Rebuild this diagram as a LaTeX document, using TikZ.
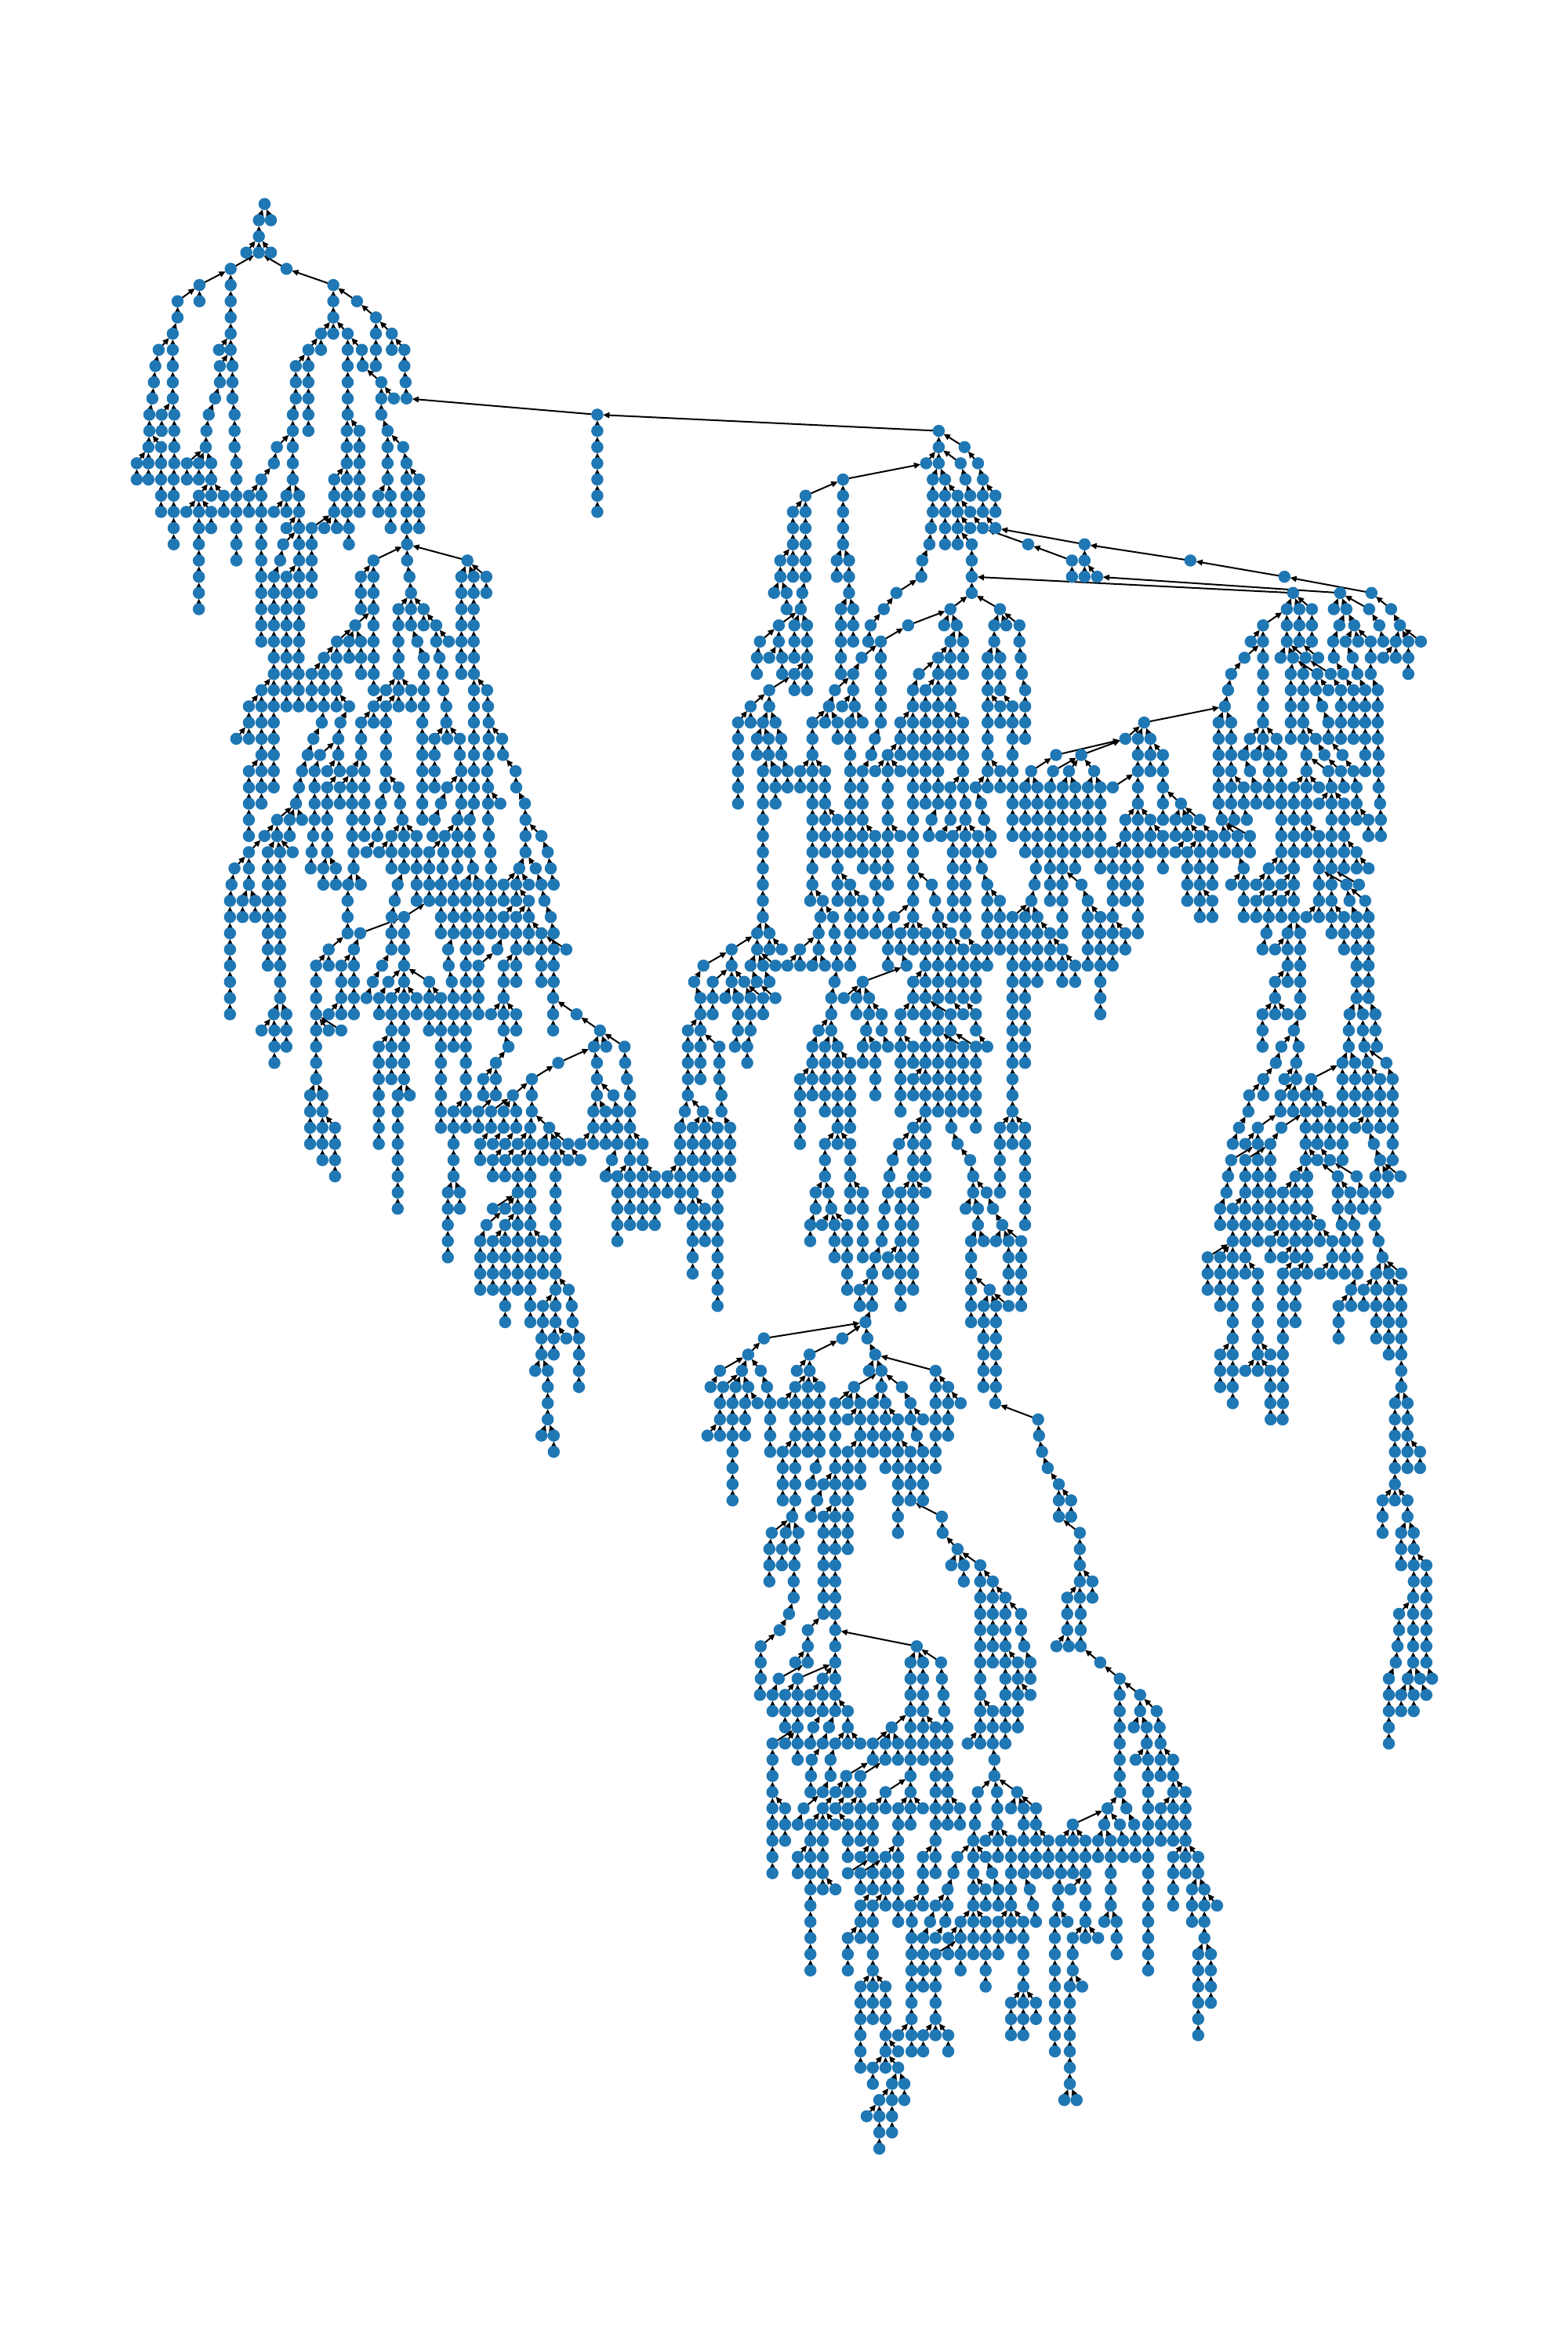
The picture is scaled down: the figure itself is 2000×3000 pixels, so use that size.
\documentclass[tikz,border=0pt]{standalone}
\definecolor{dotblue}{HTML}{1F77B4}
\newcount\nc \newdimen\bd \newdimen\td
\newdimen\cx \newdimen\cy \newdimen\px \newdimen\py \newdimen\ux \newdimen\uy
\newcommand\RG[2]{\def\regx{#1}\def\regs{#2}}
\newcommand\RW[2]{\pgfmathsetmacro\ry{-(260.2+20.67*#1)}\foreach \x/\p in {#2}{%
 \global\advance\nc by1
 \pgfmathsetmacro\rx{\regx+\x/\regs}\pgfmathsetmacro\rp{\regx+\p/\regs}%
 \coordinate (n\the\nc) at (\rx,\ry);
 \expandafter\xdef\csname rl#1\endcsname{\csname rl#1\endcsname\the\nc/\rx,}%
 \expandafter\xdef\csname td#1\endcsname{\csname td#1\endcsname\the\nc/\rp,}%
}}
\makeatletter
\def\getedge#1#2{%
 \pgfpointanchor{n#1}{center}\cx=\pgf@x \cy=\pgf@y
 \pgfpointanchor{n#2}{center}\px=\pgf@x \py=\pgf@y
 \pgfpointnormalised{\pgfqpoint{\dimexpr\px-\cx\relax}{\dimexpr\py-\cy\relax}}\ux=\pgf@x \uy=\pgf@y }
\def\addline#1#2{\getedge{#1}{#2}%
 \pgfpathmoveto{\pgfqpoint{\dimexpr\cx+2.134\ux\relax}{\dimexpr\cy+2.134\uy\relax}}%
 \pgfpathlineto{\pgfqpoint{\dimexpr\px-4.2\ux\relax}{\dimexpr\py-4.2\uy\relax}}}
\def\addtip#1#2{\getedge{#1}{#2}%
 \pgfpathmoveto{\pgfqpoint{\dimexpr\px-2.134\ux\relax}{\dimexpr\py-2.134\uy\relax}}%
 \pgfpathlineto{\pgfqpoint{\dimexpr\px-4.41\ux-1.138\uy\relax}{\dimexpr\py-4.41\uy+1.138\ux\relax}}%
 \pgfpathlineto{\pgfqpoint{\dimexpr\px-4.41\ux+1.138\uy\relax}{\dimexpr\py-4.41\uy-1.138\ux\relax}}%
 \pgfpathclose}
\makeatother
\def\findnear#1/#2,{\ifnum#1<0 \else\td=#2pt \advance\td-\tgt\relax\ifdim\td<0pt \td=-\td\fi\ifdim\td<\bd \bd=\td\def\best{#1}\fi\expandafter\findnear\fi}
\def\scantodo#1/#2,{\ifnum#1<0 \else\def\tgt{#2pt}\bd=15000pt \expandafter\findnear\plist -1/0,\edgeact{#1}{\best}\expandafter\scantodo\fi}
\def\scandot#1/#2,{\ifnum#1<0 \else\pgfpathcircle{\pgfpointanchor{n#1}{center}}{2.2pt}\expandafter\scandot\fi}
\begin{document}
\begin{tikzpicture}[x=0.01cm,y=0.01cm]
\useasboundingbox (0,0) rectangle (2000,-3000);
\foreach \r in {0,...,120}{\expandafter\gdef\csname rl\r\endcsname{}\expandafter\gdef\csname td\r\endcsname{}}
% top-left tree
\RG{140}{2.613}
\RW{0}{516}
\RW{1}{497,537}
\RW{2}{497}
\RW{3}{455,497,537}
\RW{4}{403/497,589/497}
\RW{5}{299,403,745}
\RW{6}{226,299,403,745,824}
\RW{7}{226,403,745,887}
\RW{8}{210,403,704,745,793/745,887,940}
\RW{9}{163,210,364,403,662,704,793,840/793,887,940,982}
\RW{10}{152,210,367/403,409,620,662,793,843,887,982}
\RW{11}{147,210,367,409,620,662,793,905/843,986}
\RW{12}{142,210,351,409,620,662,793,905,947/905,989}
\RW{13}{132,173/210,215,330,416,610,662,793,905,1625}
\RW{14}{132,173,215,322,416,610,662,790,832/793,926/905,1625}
\RW{15}{129,171/132,215,320,416,557/610,610,790,832,926,978/926,1625}
\RW{16}{90/129,129,171,215,257/320,297/320,338/320,422,547,610,790,832,926,989,1625}
\RW{17}{90,129,171,213,257,297,338,422,505/547,610,748/790,790,832,926,989,1031/989,1625}
\RW{18}{171,213,297/338,338,380/338,422,464/505,505,589/610,631/610,748,790,832,895/926,936/926,989,1031,1625}
\RW{19}{171,213,255/297,297,338/297,380,422,464,505,547/589,589,631,748,790,832,895,936,989,1031,1625}
\RW{20}{213,297,338,422,505,589/631,631,673/748,715/748,757/748,797,936,989,1031}
\RW{21}{213,297,422,505,578/631,631,673,797,991}
\RW{22}{297,422,505,568,631,673,879/991,991,1192/991}
\RW{23}{297,505,547/568,589/631,631,673,837,879,999,1172/1192,1213/1192,1255/1192}
\RW{24}{297,505,547,589,631,673,837,879,1004,1172,1213,1255}
\RW{25}{297,505,547,589,631,837,879,962/1004,1004,1046/1004,1172,1213}
\RW{26}{505,547,589,631,818/879,879,962,1004,1046,1088/1046,1172,1213}
\RW{27}{505,547,589,631,757/818,797/818,837/818,879,962,1025/1004,1088,1130/1088,1172,1213}
% left-middle
\RG{270}{2.613}
\RW{28}{207,249,290,374/416,416,458,498,540,623,707,759,832,874}
\RW{29}{207,249,290,333/374,374,416,498,540,623,707,769,832,874}
\RW{30}{166/207,207,249,290,333,374,416,540,581/623,623,665/623,707,772,874,918/874}
\RW{31}{124/166,166,207,249,290,333,374,416,458/416,540/581,581/623,623,665,707,782,874,921}
\RW{32}{124,166,207,367/374,429/458,498/540,540,581,702,782,874,923}
\RW{33}{82/124,124,166,207,339,422,498,581,702,743/782,785,827/782,874,923,968/923}
\RW{34}{166,207,320,361/422,422,498,581,702,743,827,874,923,971}
\RW{35}{124/166,166,207,301,343,385/422,427/422,468/498,509/498,581,702,743,832,874,918,1013}
\RW{36}{124,166,207,291,343,385/427,427/468,468,509,578,623/581,702,743,785/832,832,874,921,1015}
\RW{37}{124,166,281,343,385,427,468,509,564,628,702,764/785,832,874,921,962/921,1044/1015}
\RW{38}{124,218/281,260/281,301/281,343,385,468,509,560,636,702,743,819,860,921,1046}
\RW{39}{124,176/218,218,260,338,385,468,509,552,599/636,641/636,683/636,736,777/819,819,860,924,1046,1099/1046}
\RW{40}{124/176,187/218,228/218,270/218,333,385,473,516/552,558/599,599,641,683,725/777,772,819,860,929,1046,1120}
\RW{41}{76/124,124,187,228,330,372/385,414/385,473,599,641,683,725,769,819,871,931,1025/1046,1080/1046,1130}
\RW{42}{66,124,187,228,372,414,455/473,497/473,620,683,725,764,806,847,889,931,973/1025,1015/1025,1057/1025,1099,1140}
\RW{43}{61,103/124,145/124,187,228,453,610,683,725,764,806,847,889,931,973,1015,1057/1015,1109}
\RW{44}{61,103,145,187,228,453,600,641/725,764,806,847,889,931,973/1015,1015/1057,1057,1130}
\RW{45}{61,187,228,453,495/641,599,641,764,806,847,889,931,973,1015,1057,1099/1057,1140}
\RW{46}{61,187,228,390/453,474/495,599,641,788,847,889,952/973,1015,1057,1099,1140,1182/1099}
\RW{47}{61,187,228,348/390,390,432/474,474,568,641,790,847,889/952,973/1015,1015,1099,1140}
\RW{48}{61,228,348,432,474,537/568,589/641,641,725/641,800,847,889,973,1015,1099,1140}
\RW{49}{61,228,348,432,474,516/537,558/589,599/641,641,683/641,725,764/725,806,847,889,973,1138}
\RW{50}{61,207/228,249/228,348,390/432,432,474,558,599,641,683,725,764,806,847,889,931/973,973,1015/973,1138,1216/1138}
\RG{350}{2.613}
\RW{51}{-43,0,40,139,181/139,223/139,390,432,515,555,597,638,764,806,929,1085/1006,1378,1420}
\RW{52}{0,40,139,348/390,390,432,555,597,638,780,1065/1085,1106/1085,1167/1085,1378,1420,1483/1420}
\RW{53}{0,139,348,390,432,555,638,738,946/1065,1075/1065,1169,1378,1420,1483}
\RW{54}{139,348,390,432,555,638,696/738,738,858/946,1075,1175,1378,1420,1483}
\RW{55}{119/139,160/139,348,411/432,451/432,555,638,696,738,795/858,858,1075,1130/1075,1185,1378,1490}
\RW{56}{119,160,348,411,555,597/638,638,680/738,722/795,764/795,806/795,858,1063/1075,1104/1075,1143/1130,1185,1368,1428/1378,1490}
\RW{57}{119,160,202/160,348,411,555,597,638,680,722,764,806,853/858,916/858,1063,1104,1143,1185,1352,1394/1428,1435/1428,1477/1428,1519/1490}
\RW{58}{119,160,202,348,411,597,686/722,728/764,769/806,811/853,853,895/916,937/916,979/916,1020/1063,1063,1104,1143,1185,1227/1185,1352,1394,1435,1477,1519}
\RW{59}{160,202,411,597,686,728/769,769/811,811/853,853,895,937,979/937,1020/979,1125/1143,1185,1227,1352,1394,1435,1477,1519}
\RW{60}{202,411,597,728,769,811,853,937,1104/1125,1143/1185,1185,1227,1268/1227,1310/1352,1352,1394,1435,1477,1519}
\RW{61}{411,578/597,618/597,811,853,937,1143,1185,1227,1268,1310,1352,1394,1477}
\RW{62}{411,578,618,728/811,769/811,811,853,937,1143,1185,1227,1268,1352,1394,1435/1394,1477}
\RW{63}{578,707/769,769/811,811,853,937,1143,1185,1227,1268,1394,1435,1477}
\RW{64}{578,686/707,728/769,769,811,853,895/853,937,1143,1394,1435,1477}
\RW{65}{578,686,728,769,811,853,895,937,1394,1477}
\RW{66}{686,728,769,811,853,895,937,1394,1477}
\RW{67}{686,728,769,811,853,937,981/937,1477}
\RW{68}{769,853,895/937,937,991/981,1477}
\RW{69}{769,853,895,937,994}
\RW{70}{890/895,931/937,973/937,1015/994}
\RW{71}{890,931,1015}
\RW{72}{869/890,911/890,1015}
\RW{73}{911,1015}
\RW{74}{911}
\RW{75}{911}
\RW{76}{890/911,931/911}
\RW{77}{931}
% centre top
\RG{900}{2.613}
\RW{14}{777}
\RW{15}{777,863/777}
\RW{16}{735/777,777,850/777,908/863}
\RW{17}{458/735,757/777,798/777,866/850,924/908}
\RW{18}{333/458,458,757,798,840/798,882/866,924,966/924}
\RW{19}{291/333,333,458,757,798,840,882/840,924,966}
\RW{20}{291,333,458,751,798,840,882/840,924/882,966/924}
\RW{21}{291,333,458,746,798,840,887/840,1075/924,1263/966}
\RW{22}{249/291,291,333,437/458,478/458,722,887,1221/1075,1263}
\RW{23}{249,291,333,437,478,719,887,1221,1263,1305/1263}
\RW{24}{228/249,270/249,322,478,636/719,887}
\RW{25}{270,317/322,451/478,492/478,594/636,816/887,981/887}
\RW{26}{244/317,296/317,338/317,451,492,550/594,675/816,795/816,837/816,962/981,1002/981,1046/981}
\RW{27}{181/244,244,296,338,451,492,542,584/675,816/837,858/837,962,1046}
\RW{28}{171,212/244,255,296,338,451,520/584,584,775/816,816,858,940/962,982/962,1050}
\RW{29}{171,255,296/338,338,451,492/520,584,711/775,775,816,858,940,982,1054}
\RW{30}{212/296,296,338,431/492,492,584,691/711,733/775,775,816,940,982,1065}
\RW{31}{150/212,212,411/431,455/492,497/492,584,691,733,775,816,940,982/940,1023/982,1065}
\RW{32}{108/150,150,191/212,233/212,356/411,398/411,440/411,482/497,523/497,584,649/691,691,733,775,816,858/816,940,982,1023,1065}
\RW{33}{108,171/191,210/191,252/233,356,440,482,564,649,691,733,775,816,858,940,1023,1065}
\RW{34}{108,171,210,252,356,482,552/564,607/649,649,691,733,775,816,858,940,1023,1168/1400,1252/1400}
\RW{35}{108,191/210,233/210,273/252,315/356,356,398/356,482,523/552,565/607,607,649/607,691,733,775,858,940,982/940,1023,1085/1168,1158/1252,1211/1252,1295/1252}
\RW{36}{108,191,233,273,315,356,398,482,523,607,691,733,775,816/858,858,900/940,940,982,1023,1065,1106/1085,1148/1158,1190/1211,1232/1211,1274/1295,1316/1295}
\RW{37}{108,191,233,356,398,482,523,607,691,733,775,816,866,918/900,1023,1065,1106,1148,1190,1232,1274,1316}
\RW{38}{191,356,398,440/398,482,523,607,691,753/775,816,866,928,1023,1065,1106,1148,1190,1232,1274,1316}
\RW{39}{191,356,398,440,482,523,565/523,607,649/607,691,744/753,785/816,824/866,866,908/866,950/928,1023,1065,1106,1148,1190,1232,1274,1316}
\RW{40}{191,356,398,440,482,523,565,607,691,824,866,908,950,1065,1106,1148,1190,1232,1274,1316}
% right top
\RG{1400}{3}
\RW{22}{355}
\RW{23}{715}
\RW{24}{748/-483,928/-3,1048/715}
\RW{25}{724/748,772/748,820/748,904/928,952/928,1039/928,1123/1048}
\RW{26}{633/724,724,772,820,925/952,982/952,1078/1039,1157/1123}
\RW{27}{586/633,633,724,772,820,901/925,949/982,997/982,1045/982,1093/1078,1141/1157,1189/1157,1237/1157}
\RW{28}{562/633,633,700/724,748/724,796/724,844/772,904/901,976/949,1045,1093/1141,1141,1189}
\RW{29}{511/562,633,739/748,787/796,841/748,892/796,940/904,994/976,1045,1189}
\RW{30}{499,633,739,787,835/841,883/841,931/892,979/940,1024/994,1072/1045}
\RW{31}{487,633,739,787,859/835,931,979,1024,1072}
\RW{32}{178/487,463/487,511/487,633,739,787,883/859,931,979,1024,1072}
\RW{33}{106,154,202,463,511,583/633,633,685/633,739,787,835/787,883,931,979,1024,1072}
\RW{34}{154,202,250/202,463,511,559/583,607/633,655/633,703/685,799/787,868/835,937/883,1024,1075}
\RW{35}{154,202,250,463,511,583/559,655,703,799,883/799,931/868,979/937,1024,1075}
\RW{36}{58/106,154,250,463,511,559/511,607/583,655,703,751/799,799,847/799,895/883,943/931,991/979,1075}
\RW{37}{154,250,319/250,463,511,559,607,655,703,751,799,847/895,895,943/895,991,1081}
\RW{38}{106/154,154,202/154,250,298/319,343/319,391/319,475,523,571,703,751,799,895,943,991,1036/991,1084}
\RW{39}{106,154,202,250/202,298,343,391/343,439/391,487/475,535/475,583/475,703,751,799,847/799,895,943,1036,1084}
\RW{40}{58/106,106,154,202,250,298/343,343/391,391,439,487,535,583,703,751,799,847,895,943,991/943}
% centre middle
\RG{880}{2.613}
\RW{41}{243,408,492,576,618,660,744,876,918,973,1153,1200,1241,1284,1368,1409,1451,1493}
\RW{42}{243,408,492,534/492,618,660,744,806/744,876,918,991,1149,1200,1241,1305/1241,1409,1451,1493}
\RW{43}{243,401/408,443/408,492,534,576/534,628,744,817,876,918,991,1033/991,1138,1200,1241,1326,1409,1451,1493}
\RW{44}{243,435,477/443,534,576,628,680/744,744,827,876,918,991,1033,1075/1138,1117/1138,1158/1138,1241,1326,1368/1326,1409,1493}
\RW{45}{224,265,429,482,534,576,618/628,660/680,702/744,744,785/744,827,869/827,918,991,1033,1075,1117,1158,1200/1158,1241,1326,1368,1409,1451/1409,1493}
\RW{46}{139/224,224,265,306/265,367/429,429,487,534,660,702,744,785,827,869,911/869,953/918,991,1033,1075,1117,1158,1200,1241/1200,1326,1368,1409,1451}
\RW{47}{45/139,139,202/224,244/224,285/224,325/367,367,408/429,450/429,492,534,660,722,785,827,869,911,953,991,1075,1117,1158,1200,1241,1284/1241,1326,1368,1409}
\RW{48}{14/45,76/139,139,181/139,223/202,265/244,482,576/722,744/785,785,827,869,911,953,1075,1117,1158,1241,1284,1368}
\RW{49}{35/14,76,118/139,160/139,202/181,244/181,285/223,471/482,513/576,555/576,597/576,744,785,827,869,911,953,1075,1117,1368}
\RW{50}{35,76,160,202,244,471,555,597,639/597,702/744,744,785,827,869/785,911/869,953/911,1075,1117,1368}
\RW{51}{160,202,429/471,471,587,639,702,785,827,869,953,1075,1117}
\RW{52}{150/160,191/202,408/429,450/471,492/471,576/587,618/587,660/639,702,744/702,785,827,869,911/827,953/869,991/953,1075,1117}
\RW{53}{191,408,450,492,534/492,576,618,702,744,785,827,869,911,953,1075,1117}
\RW{54}{367/408,408,450,492,534,618,702,744/785,785,827,869,911,953,1075}
\RW{55}{367,408,450,492,534,618,702,744,785,827,869,911,953,1075}
\RW{56}{367,450,492,534,702,785,827,869,911,953,1075}
\RW{57}{367,492,534,744/785,785,871,953,1033/1075,1075,1117/1075}
\RW{58}{367,450/492,492,534/492,697/744,744,785,892/871,1033,1075,1117}
\RW{59}{450,534,676/697,744,785,934/892,1033,1117}
\RW{60}{450,534,665,744,785,944,1033,1117}
\RW{61}{419/450,461/450,534,576/534,660,702/744,744,785/744,944,989/944,1033,1117}
\RW{62}{419,471/461,534,576,649,702,744,919/944,960/944,1010/989,1117}
\RW{63}{401/419,440/471,482/471,524/471,576,644,702,744,960,1041/1010,1117}
\RW{64}{401,482,524,576,639,702,744,937/960,979/960,1020/1041,1062/1041,1104/1041}
\RW{65}{482,524,576,618/639,660/702,702,744,937,1062,1104}
\RW{66}{524,607/618,660,702,744,937,1062,1104}
\RW{67}{524,566/607,607,702,744,937,999/937,1062,1104}
\RW{68}{566,607,702,937,979/999,1020/999,1062/999,1104}
\RW{69}{585/607,937,979,1020}
% lower centre
\RG{880}{3}
\RW{70}{283/671,583/671,679/671,1123,1171}
\RW{71}{223/283,458/583,709/679,1123,1171}
\RW{72}{115/223,199/223,271/223,409/458,458,685/709,733/709,940/709,1123,1171}
\RW{73}{79/115,127/199,175/199,223/199,295/271,403/458,451,496/458,628/733,733,811/733,940,988/940,1123,1171}
\RW{74}{115/127,163/175,211/223,259/223,307/295,355/403,403,451,496,556/628,604/628,652/628,700/733,748/733,844/811,940,988,1036/988,1168}
\RW{75}{115,163,211,307,403,451,496,556,604/652,652,700,748,796/748,844,892/844,940,988}
\RW{76}{67/115,115,163,211,307,403,451,496,556,652,700,748,796,868/844,940,988}
\RW{77}{163,307,355/403,403,451,496,556,604/652,652,700,748,796,844/796,892/868,940}
\RW{78}{163,355,403,481/496,556,604,652,748,796,844,892,940}
\RW{79}{163,355,403,463/481,511/556,556,604,652,796,844,892}
\RW{80}{163,355,403,487/511,556,604,796,844,892}
\RW{81}{391/403,463/487,511/556,556,604,796,964/844}
\RW{82}{313/391,367/391,415/391,511,556,604,796,967}
\RW{83}{304,352,400/415,511,556,604,1024/967}
\RW{84}{304,352,400,511,556,1000/1024,1048/1024,1111/1024}
\RW{85}{304,397,511,556,1048,1111,1159/1111}
\RW{86}{397,511,556,1111,1159,1207/1159}
\RW{87}{379/397,511,556,1111,1159,1207,1267/1207}
\RW{88}{343/379,451/511,556,1111,1159,1207,1267}
\RW{89}{271/343,451,556,868/556,1111,1159,1207,1279}
\RW{90}{271,403/451,451,556,844/868,892/868,961/868,1111,1159,1207,1255/1207,1303/1279}
\RW{91}{271,340/451,412/556,508/556,556,844,892,964,1111,1207,1255,1303}
\RW{92}{268,316/340,364/412,412,460/508,508,556,844,892,970,1111,1207,1255,1303/1255}
\RW{93}{316,364,412,460,508,556,604/556,844,892,973,1111,1159/1111,1207,1255}
\RW{94}{364,412,472/508,532/556,604,772/844,844,892,940/892,985,1111,1159,1207,1255}
\RW{95}{316/412,364/412,412,460/472,508/532,556/604,604,652/604,700/772,748/772,796/772,844,892,940,985,1063/1111,1111,1159,1207}
\RW{96}{316,412,466/508,538/556,700,748,796,844,892,940,985,1165}
\RW{97}{316,463/466,538,598/700,652/748,844,940,985,1165}
% middle right
\RG{1480}{3}
\RW{41}{10,103,151,199,319,415,463,511,607,655,703,751,797}
\RW{42}{103,151,199,271/319,319,367/415,415,463/511,511,607,655,712/607,760/655}
\RW{43}{103,151,199/151,319,367/415,415/463,463/511,511,607,655,724/712,784/712}
\RW{44}{151,199,319,367,415,463,511,559/607,607,655,703/655,751/724,797/784}
\RW{45}{406/415,487/511,535/511,655,703,751,797}
\RW{46}{391/406,439/487,487,535,703,751,797}
\RW{47}{487,535,751,797}
\RW{48}{439/487,487,535,751,797}
\RW{49}{439,535,751,797}
\RW{50}{391/439,439,487/439,535,724/751,775/751,823/797}
\RW{51}{391,511/535,721,775,823}
\RW{52}{391,463/511,529/511,721,781/775,829}
\RW{53}{442/463,520/529,697/721,745/721,793/781,865/781}
\RW{54}{394/442,475/520,520,577/697,697,745,793,841/793,889/865}
\RW{55}{340/394,394,460/520,508/520,556/577,601/577,697,745,793,841,889}
\RW{56}{337,460,508,556,601,649/601,697,745,793,841,889}
\RW{57}{301/337,373/460,463/556,556,601,649,697,745/793,793,841,889}
\RW{58}{277/301,325/373,373,421/463,556,601,649,697,817/793,889}
\RW{59}{271/373,325/421,373,421,556,601/556,649/601,697,841/817,889}
\RW{60}{259/271,325,373,421,517/556,562/556,679/601,751/649,823/841,871/841,919/841}
\RW{61}{253,325,373,421,469/517,517,562,679,727/679,775/751,823,871}
\RW{62}{229/253,277/325,325,373,421,469,517,562,679,727,775,823}
\RW{63}{229,277,325,373,421,469,517,562,610/562,694,742,820}
\RW{64}{277,325,373,421/469,469,517,562,610,658/610,706,754,835}
\RW{65}{181/277,229/277,277,325,421,469/517,517,562,658,706,754,850}
\RW{66}{181,229,277,325,373/325,469/517,517/562,562,610/658,658,706,754,826/850,874/850,922/850}
\RW{67}{181,229,277,373,469,517,730/754,778/826,826,874,922/874}
\RW{68}{229,277,373,469,517,682/730,730,778,826,874,922}
\RW{69}{277,373,469,517,682,826,874,922}
\RW{70}{277,373,469,682,826,874,922}
\RW{71}{229/277,277,373,421/373,469,874,922}
\RW{72}{229,277,325/373,373,421/373,469,922}
\RW{73}{229,277,421,469,922}
\RW{74}{277,421,469,898/922,946/922}
% far right and lower right
\RG{1300}{2.613}
\RW{75}{63,838,878,1252,1294}
\RW{76}{66,1252,1294}
\RW{77}{76,1252,1294,1336/1294}
\RW{78}{95,1252,1294,1336}
\RW{79}{132,1252}
\RW{80}{132,173/132,1211/1252,1252,1294/1252}
\RW{81}{132,173,1211,1294}
\RW{82}{202/132,1211,1273/1294,1315/1294}
\RW{83}{202,1273,1315}
\RW{84}{202,1273,1315,1357/1315}
\RW{85}{202,244/202,1315,1357}
\RW{86}{160/202,202,244,1313,1357}
\RW{87}{160,205,1266/1313,1313,1357}
\RW{88}{160,205,1266,1313,1357}
\RW{89}{124/160,165,205,1261,1313,1357}
\RW{90}{270/205,1255,1313,1357}
\RW{91}{335/270,1232/1255,1295/1313,1336/1313,1376/1357}
\RW{92}{335,403/335,1232,1273/1295,1315/1295,1357/1336}
\RW{93}{335,403,458/403,1232,1273,1315}
\RW{94}{335,382/403,425/403,468/458,1232}
\RW{95}{335,425,471,1232}
\RW{96}{335,388/425,429,471,513/471}
\RW{97}{335,429,471,513}
% bottom
\RG{940}{2.412}
\RW{98}{109,226,264/288,303/336,341,380,457/534,534,611,648,741/792,800/792,862/792,1179,1265,1342,1380}
\RW{99}{109,148/109,205/264,264/303,303/341,341/380,380,418/457,457,496/534,534,572/534,611,648,686/648,734/741,801,843/862,882/862,920/862,1140/1179,1198/1179,1265,1304/1342,1342,1380}
\RW{100}{109,148,187/205,226/264,264,303/264,341/303,380,418,496,534,611,648,686,732,801,882,920,1033/1140,1130/1140,1178/1140,1222/1198,1265,1304,1342,1380}
\RW{101}{109,148,226,264,341,380,418,496,611,727/732,765/801,803,843/801,882,920,958/920,997/1033,1034,1072/1033,1111/1130,1150/1130,1188/1178,1226/1222,1265,1304,1342,1380}
\RW{102}{109,187/226,226,264,341,380/418,418,457/496,496,572/611,611,678/727,727,765/727,803,843,882,920,958,997,1034,1072,1111,1150,1188,1226,1265,1342/1380,1380,1419/1380}
\RW{103}{109,187,226,264,341/418,380/457,418,457,496,572,611,666/678,727,785/765,843,882,920,958,997,1034,1072,1150,1265,1342,1380,1419}
\RW{104}{226,264,303/264,380,418,457,496,572,648/666,727,765/727,804/785,843,901/882,988/997,1026/1072,1072,1150,1265,1342,1400/1419,1438/1419}
\RW{105}{226,380/418,418/457,457,496,534/572,572,611/648,648,727,765,804,843,911,988,1072,1150,1265,1342,1400,1438,1477/1438}
\RW{106}{226,380,418,496,538,594/611,641/648,688/727,727,765/727,804/843,843,881/843,920/911,978,1017/988,1072,1130/1150,1168/1150,1265,1400,1438}
\RW{107}{226,341/380,380,418,537,573/594,611/641,650/688,688,727,765,804,843,881,978,1033/1072,1072,1111/1072,1168,1265,1438}
\RW{108}{226,341,418,537,573,611/688,650,688,727,765,804,881,978,1033,1168,1265,1419/1438,1458/1438}
\RW{109}{226,341,418,537,573,611,688,765,881,978,1033,1265,1419,1458}
\RW{110}{380/418,418,457/418,537,573,611,765,881,978,1024/1033,1062/1033,1419,1458}
\RW{111}{380,418,457,537,611,843/881,881,920/881,978,1024,1419,1458}
\RW{112}{380,418,457,537,611,843,881,920,978,1024,1419}
\RW{113}{380,457,496/537,537,573/611,611,650/611,843,881,978,1024,1419}
\RW{114}{380,457,496/457,537,573,650,978,1024}
\RW{115}{380,418/457,457,496/457,1024}
\RW{116}{418,477/496,515/496,1024}
\RW{117}{438/477,477,515,1007/1024,1045/1024}
\RW{118}{399/438,438,477}
\RW{119}{438,477}
\RW{120}{438}
% connectors, child to parent, by node name; one path per row keeps memory within bounds
\pgfsetlinewidth{0.569pt}
\foreach \r in {1,...,120}{%
 \pgfmathtruncatemacro\q{\r-1}%
 \edef\plist{\csname rl\q\endcsname}%
 \edef\tlist{\csname td\r\endcsname}%
 \let\edgeact\addline
 \expandafter\scantodo\tlist -1/0,%
 \pgfusepath{stroke}%
 \let\edgeact\addtip
 \expandafter\scantodo\tlist -1/0,%
 \pgfusepath{fill}%
}
% the nodes, one filled path per row
\pgfsetfillcolor{dotblue}
\foreach \r in {0,...,120}{%
 \edef\dlist{\csname rl\r\endcsname}%
 \expandafter\scandot\dlist -1/0,%
 \pgfusepath{fill}%
}
\end{tikzpicture}
\end{document}
